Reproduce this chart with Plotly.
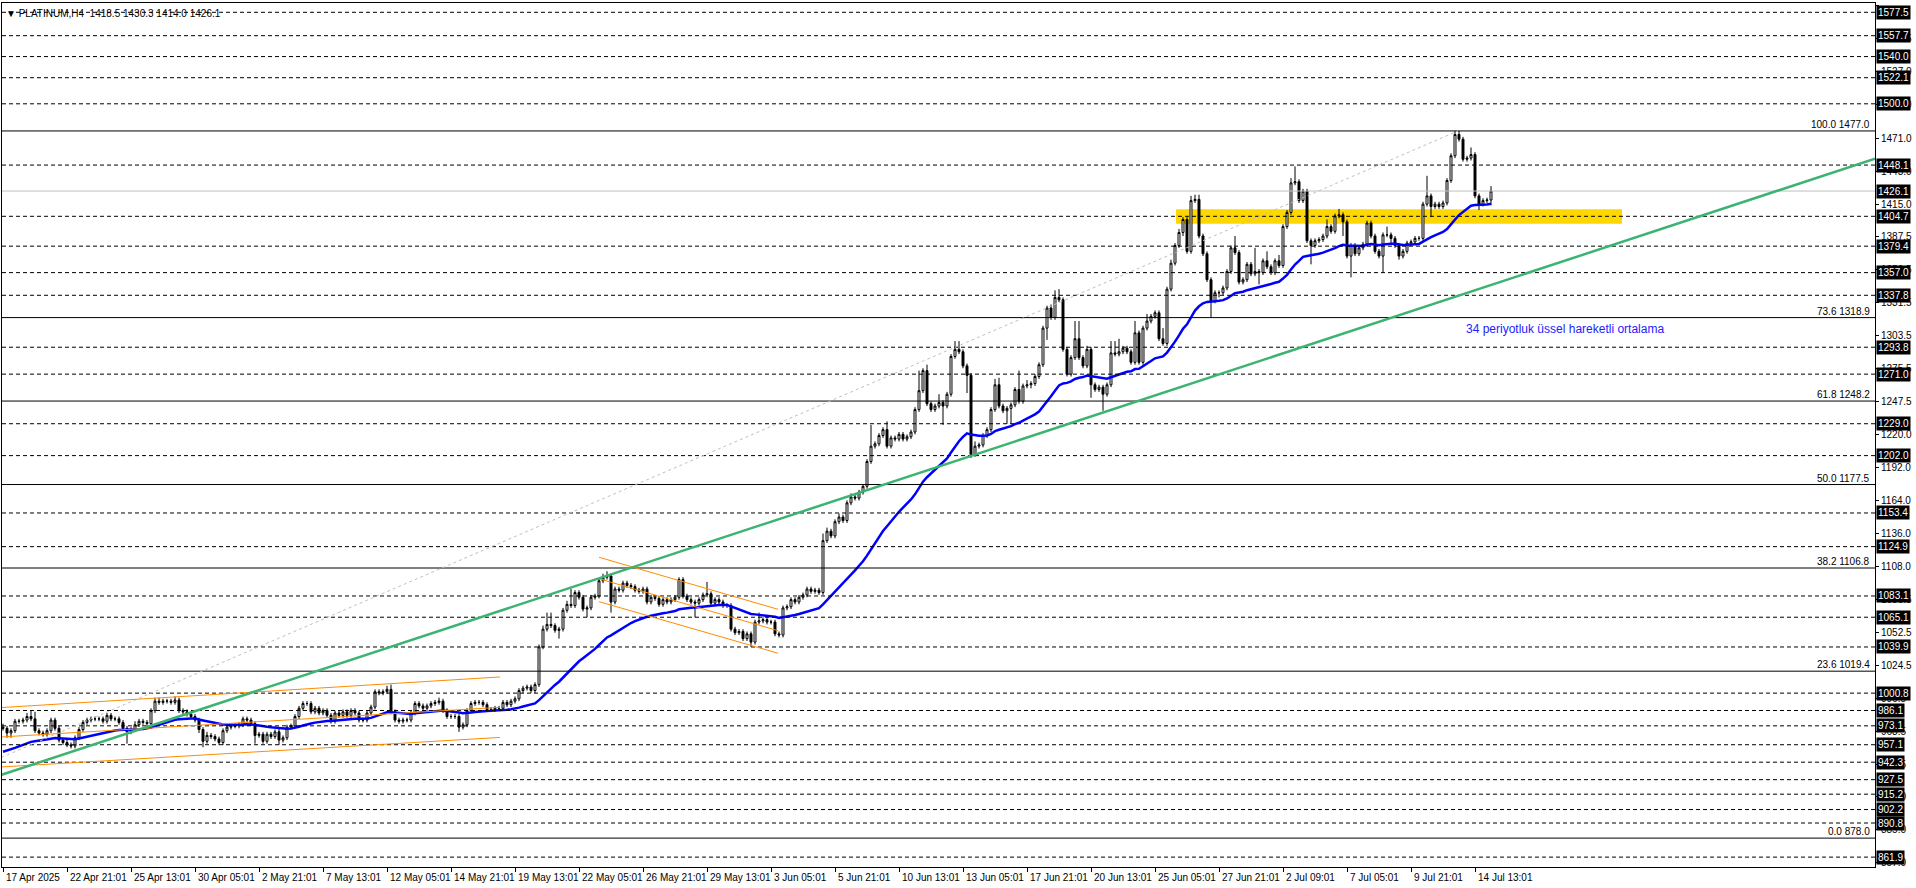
import plotly.graph_objects as go

# ---------------- data ----------------
closes = [
 971, 967, 969, 977, 977, 978, 981, 979, 969, 967,
 966, 969, 978, 971, 961, 959, 957, 956, 963, 970,
 976, 978, 979, 979, 979, 977, 982, 979, 979, 976,
 971, 968, 970, 974, 977, 976, 975, 986, 994, 993,
 994, 994, 993, 995, 986, 985, 983, 981, 978, 970,
 960, 965, 964, 962, 959, 969, 972, 973, 973, 974,
 979, 978, 975, 965, 966, 960, 966, 964, 968, 961,
 963, 972, 973, 981, 988, 992, 992, 985, 988, 984,
 986, 982, 977, 984, 982, 985, 982, 986, 984, 978,
 978, 984, 989, 1002, 1001, 1002, 1004, 985, 978, 977,
 978, 978, 984, 992, 990, 988, 990, 992, 993, 994,
 986, 981, 981, 981, 972, 974, 986, 992, 993, 993,
 991, 987, 987, 988, 988, 993, 991, 994, 996, 1003,
 1005, 1006, 1003, 1008, 1040, 1055, 1059, 1058, 1054, 1055,
 1071, 1076, 1075, 1086, 1082, 1072, 1073, 1082, 1083, 1096,
 1099, 1100, 1078, 1089, 1088, 1094, 1092, 1091, 1088, 1087,
 1089, 1078, 1082, 1081, 1076, 1080, 1078, 1080, 1082, 1097,
 1083, 1080, 1078, 1077, 1080, 1084, 1085, 1077, 1080, 1078,
 1075, 1075, 1055, 1052, 1053, 1047, 1051, 1044, 1061, 1062,
 1063, 1061, 1061, 1051, 1050, 1073, 1074, 1080, 1078, 1082,
 1084, 1089, 1087, 1088, 1086, 1130, 1138, 1134, 1146, 1150,
 1147, 1162, 1167, 1166, 1171, 1176, 1197, 1210, 1212, 1219,
 1224, 1210, 1217, 1216, 1220, 1216, 1218, 1222, 1241, 1257,
 1274, 1246, 1241, 1244, 1247, 1244, 1254, 1286, 1292, 1290,
 1278, 1270, 1203, 1210, 1211, 1219, 1224, 1241, 1262, 1244,
 1240, 1242, 1245, 1258, 1248, 1261, 1262, 1263, 1269, 1279,
 1310, 1327, 1319, 1336, 1334, 1292, 1271, 1285, 1301, 1285,
 1278, 1292, 1262, 1258, 1260, 1254, 1262, 1289, 1288, 1290,
 1293, 1290, 1281, 1306, 1281, 1310, 1316, 1320, 1323, 1301,
 1297, 1343, 1365, 1380, 1391, 1402, 1375, 1418, 1419, 1388,
 1373, 1351, 1333, 1340, 1340, 1344, 1358, 1378, 1374, 1349,
 1351, 1364, 1356, 1358, 1357, 1367, 1362, 1357, 1367, 1363,
 1396, 1408, 1433, 1434, 1418, 1426, 1384, 1380, 1384, 1385,
 1388, 1396, 1392, 1405, 1406, 1400, 1371, 1380, 1373, 1378,
 1381, 1399, 1388, 1375, 1371, 1389, 1389, 1386, 1380, 1371,
 1375, 1382, 1383, 1386, 1386, 1415, 1422, 1413, 1415, 1413,
 1416, 1435, 1456, 1474, 1470, 1453, 1454, 1457, 1422, 1415,
 1418, 1418.5, 1426.1,
]
upper_wick = [
 3,2,2,2,2,2,3,5,6,2, 2,2,2,2,2,2,2,2,2,2, 2,2,2,2,2,2,2,2,2,2,
 2,2,2,3,2,2,2,2,3,3, 2,2,2,3,2,2,2,2,2,2, 2,3,2,2,2,2,2,2,2,2,
 2,2,2,2,2,2,2,2,2,3, 2,2,2,2,2,2,2,2,2,2, 2,2,2,2,2,2,2,2,2,2,
 2,2,2,2,2,2,3,4,2,2, 2,2,2,2,2,2,2,2,2,3, 2,2,2,2,2,2,2,2,2,2,
 2,2,2,2,2,2,2,2,2,2, 2,2,2,2,2,3,10,10,2,2, 2,3,13,2,2,2,2,2,2,2,
 3,4,2,2,2,2,2,2,2,2, 2,2,2,2,2,2,2,2,2,2, 2,2,2,2,2,2,10,2,2,2,
 2,2,2,2,2,2,2,2,2,7, 2,2,2,2,2,2,2,2,2,2, 2,2,2,2,2,6,3,2,2,3,
 2,2,3,2,2,2,2,18,2,2, 2,7,2,2,2,2,2,2,2,17, 2,5,2,2,7,2,2,2,7,7,
 2,2,2,4,2,2,2,2,5,6, 2,2,2,2,16,2,4,2,2,2, 2,2,3,6,7,2,2,2,15,15,
 2,3,2,2,2,2,2,10,10,11, 2,2,2,10,2,2,6,2,2,2, 9,2,3,2,3,2,2,4,4,4,
 2,2,2,2,2,2,2,2,10,2, 2,2,2,20,2,2,8,2,2,5, 2,2,4,13,2,2,2,2,2,2,
 2,6,2,2,5,2,2,2,2,2, 2,2,2,2,2,2,7,2,2,2, 2,2,2,2,2,2,17,2,2,2,
 2,2,2,3,3,2,2,6,2,2, 2,2,4.2,
]
lower_wick = [
 2,4,4,2,2,2,2,2,2,2, 2,2,2,2,2,2,2,2,2,2, 2,2,2,2,2,2,2,2,2,2,
 2,10,2,2,2,2,2,2,2,2, 2,2,2,2,2,2,2,2,2,3, 5,2,2,2,2,2,2,2,2,2,
 2,2,2,7,2,2,2,2,2,4, 2,2,2,2,2,2,2,2,2,2, 2,2,2,2,2,2,2,2,2,2,
 2,2,2,2,2,2,2,2,2,2, 2,2,2,2,2,2,2,2,2,2, 2,2,2,2,4,2,2,2,2,2,
 2,2,2,2,2,2,2,2,2,2, 2,2,2,2,2,2,2,2,2,7, 2,2,2,2,2,2,7,2,2,2,
 2,2,9,2,2,2,2,2,2,2, 2,2,2,2,2,2,2,2,2,2, 2,2,2,12,2,2,2,2,2,2,
 2,2,2,2,2,2,2,4,2,2, 2,2,2,2,2,2,2,2,2,2, 2,2,2,2,2,2,2,2,2,2,
 2,2,2,2,2,2,2,2,2,2, 2,2,2,2,2,2,2,2,2,2, 2,2,2,2,2,16,2,2,2,2,
 2,15,3,2,2,2,2,2,2,2, 2,11,13,2,2,2,2,3,2,2, 2,10,2,2,2,2,2,2,2,2,
 2,2,11,2,2,14,2,2,2,2, 2,2,2,2,2,2,2,2,2,2, 2,2,2,2,2,3,2,2,2,2,
 2,2,14,2,4,2,2,2,2,2, 2,2,2,2,10,2,2,2,2,2, 2,2,2,2,2,2,2,16,2,2,
 2,2,2,2,2,12,2,18,2,2, 2,2,2,2,2,14,2,5,2,3, 2,2,2,2,2,2,2,9,2,2,
 2,2,2,2,2,2,2,2,2,5, 2,2,4.5,
]
first_open = 972.0
ema_seed = 950.0
ema_period = 34

x_tick_idx = [0, 16, 32, 48, 64, 80, 96, 112, 128, 144, 160, 176, 192, 208, 224,
              240, 256, 272, 288, 304, 320, 336, 352, 368]
x_tick_labels = ["17 Apr 2025", "22 Apr 21:01", "25 Apr 13:01", "30 Apr 05:01",
                 "2 May 21:01", "7 May 13:01", "12 May 05:01", "14 May 21:01",
                 "19 May 13:01", "22 May 05:01", "26 May 21:01", "29 May 13:01",
                 "3 Jun 05:01", "5 Jun 21:01", "10 Jun 13:01", "13 Jun 05:01",
                 "17 Jun 21:01", "20 Jun 13:01", "25 Jun 05:01", "27 Jun 21:01",
                 "2 Jul 09:01", "7 Jul 05:01", "9 Jul 21:01", "14 Jul 13:01"]

y_tick_vals = [1583.5, 1555.5, 1527.0, 1499.0, 1471.0, 1443.0, 1415.0, 1387.5,
               1359.5, 1331.5, 1303.5, 1275.5, 1247.5, 1220.0, 1192.0, 1164.0,
               1136.0, 1108.0, 1080.5, 1052.5, 1024.5, 996.5, 968.5, 940.5,
               913.0, 885.0, 857.0]

dashed_levels = [1577.5, 1557.7, 1540.0, 1522.1, 1500.0, 1448.1, 1404.7, 1379.4,
                 1357.0, 1337.8, 1293.8, 1271.0, 1229.0, 1202.0, 1153.4, 1124.9,
                 1083.1, 1065.1, 1039.9, 1000.8, 986.1, 973.1, 957.1, 942.3,
                 927.5, 915.2, 902.2, 890.8, 861.9]
bid_level = 1426.1

fib_pct = ["100.0", "73.6", "61.8", "50.0", "38.2", "23.6", "0.0"]
fib_prices = [1477.0, 1318.9, 1248.2, 1177.5, 1106.8, 1019.4, 878.0]
fib_diag_x = [-47.25, 363.75]
fib_diag_y = [878.0, 1477.0]

green_x = [-0.75, 468.0]
green_y = [931.2, 1453.5]

# orange channels: (x0, y0, x1, y1)
orange_lines = [
    (-0.75, 988.5, 124.25, 1014.5),
    (-0.75, 963.6, 124.25, 988.8),
    (-0.75, 938.2, 124.25, 963.3),
    (149.0, 1115.9, 193.75, 1071.8),
    (149.0, 1097.7, 193.75, 1053.7),
    (149.0, 1078.3, 193.75, 1034.6),
]
zone_x = [293.25, 404.75]
zone_y = [1398.4, 1410.6]

ema_note = "34 periyotluk üssel hareketli ortalama"
ema_note_pos = (365.25, 1309.2)
symbol = "PLATINUM,H4"

# ---------------- derived ----------------
n = len(closes)
idx = list(range(n))
opens = [first_open] + closes[:-1]
highs = [max(o, c) + u for o, c, u in zip(opens, closes, upper_wick)]
lows = [min(o, c) - l for o, c, l in zip(opens, closes, lower_wick)]

k = 2.0 / (ema_period + 1)
ema = []
prev = ema_seed
for c in closes:
    prev = prev + k * (c - prev)
    ema.append(prev)

FONT = "Liberation Sans"

fig = go.Figure()
fig.add_trace(go.Candlestick(
    x=idx, open=opens, high=highs, low=lows, close=closes,
    increasing=dict(line=dict(color="black", width=1), fillcolor="white"),
    decreasing=dict(line=dict(color="black", width=1), fillcolor="black"),
    whiskerwidth=0, hoverinfo="skip", showlegend=False))
fig.add_trace(go.Scatter(x=idx, y=ema, mode="lines",
                         line=dict(color="#0000FF", width=2.5),
                         hoverinfo="skip", showlegend=False))

shapes = []
shapes.append(dict(type="rect", xref="x", yref="y", x0=zone_x[0], x1=zone_x[1],
                   y0=zone_y[0], y1=zone_y[1], fillcolor="#FFD700",
                   line=dict(width=0), layer="below"))
for lv in dashed_levels:
    shapes.append(dict(type="line", xref="paper", yref="y", x0=0, x1=1, y0=lv, y1=lv,
                       line=dict(color="black", width=1, dash="4px,3px")))
for lv in fib_prices:
    shapes.append(dict(type="line", xref="paper", yref="y", x0=0, x1=1, y0=lv, y1=lv,
                       line=dict(color="black", width=1)))
shapes.append(dict(type="line", xref="paper", yref="y", x0=0, x1=1, y0=bid_level,
                   y1=bid_level, line=dict(color="#C0C0C0", width=1)))
shapes.append(dict(type="line", xref="x", yref="y", x0=fib_diag_x[0], x1=fib_diag_x[1],
                   y0=fib_diag_y[0], y1=fib_diag_y[1],
                   line=dict(color="#C0C0C0", width=1, dash="3px,3px")))
for (x0, y0, x1, y1) in orange_lines:
    shapes.append(dict(type="line", xref="x", yref="y", x0=x0, x1=x1, y0=y0, y1=y1,
                       line=dict(color="#FF8C00", width=1)))
shapes.append(dict(type="line", xref="x", yref="y", x0=green_x[0], x1=green_x[1],
                   y0=green_y[0], y1=green_y[1], line=dict(color="#3CB371", width=2.5)))

annotations = []
for i, lab in zip(x_tick_idx, x_tick_labels):
    annotations.append(dict(x=i, y=0, xref="x", yref="paper", text=lab,
                            xanchor="left", yanchor="top", xshift=1, yshift=-3,
                            showarrow=False, font=dict(family=FONT, size=10, color="black")))
tag_levels = dashed_levels + [bid_level]
for lv in tag_levels:
    annotations.append(dict(x=1, y=lv, xref="paper", yref="y", text=f"{lv:.1f}",
                            xanchor="left", yanchor="middle", xshift=1,
                            showarrow=False, bgcolor="black", borderpad=1,
                            font=dict(family=FONT, size=10, color="white")))
for p, lv in zip(fib_pct, fib_prices):
    annotations.append(dict(x=1, y=lv, xref="paper", yref="y", text=f"{p} {lv:.1f}",
                            xanchor="right", yanchor="bottom", xshift=-3, yshift=-1,
                            showarrow=False, font=dict(family=FONT, size=10, color="black")))
annotations.append(dict(x=ema_note_pos[0], y=ema_note_pos[1], xref="x", yref="y",
                        text=ema_note, xanchor="left", yanchor="middle", showarrow=False,
                        font=dict(family=FONT, size=12, color="#2222FF")))
header = f"▼ {symbol}  {opens[-1]:.1f} {highs[-1]:.1f} {lows[-1]:.1f} {closes[-1]:.1f}"
annotations.append(dict(x=0, y=1, xref="paper", yref="paper", text=header,
                        xanchor="left", yanchor="top", xshift=2, yshift=-3,
                        showarrow=False, font=dict(family=FONT, size=10, color="black")))

fig.update_layout(
    width=1916, height=888,
    margin=dict(l=2, r=41, t=3, b=21),
    paper_bgcolor="white", plot_bgcolor="white",
    shapes=shapes, annotations=annotations,
    showlegend=False,
    xaxis=dict(range=[-0.25, 468.0], showgrid=False, zeroline=False,
               showline=True, mirror=True, linecolor="black", linewidth=1,
               ticks="outside", ticklen=4, tickcolor="black",
               tickvals=x_tick_idx, showticklabels=False,
               rangeslider=dict(visible=False)),
    yaxis=dict(range=[853.53, 1585.38], side="right", showgrid=False, zeroline=False,
               showline=True, mirror=True, linecolor="black", linewidth=1,
               ticks="outside", ticklen=3, tickcolor="black",
               tickvals=y_tick_vals, ticktext=[f"{v:.1f}" for v in y_tick_vals],
               tickfont=dict(family=FONT, size=10, color="black")),
)

fig.write_html("out.html", config={"displayModeBar": False},
               post_script="document.body.style.margin='0';document.body.style.overflow='hidden';")
